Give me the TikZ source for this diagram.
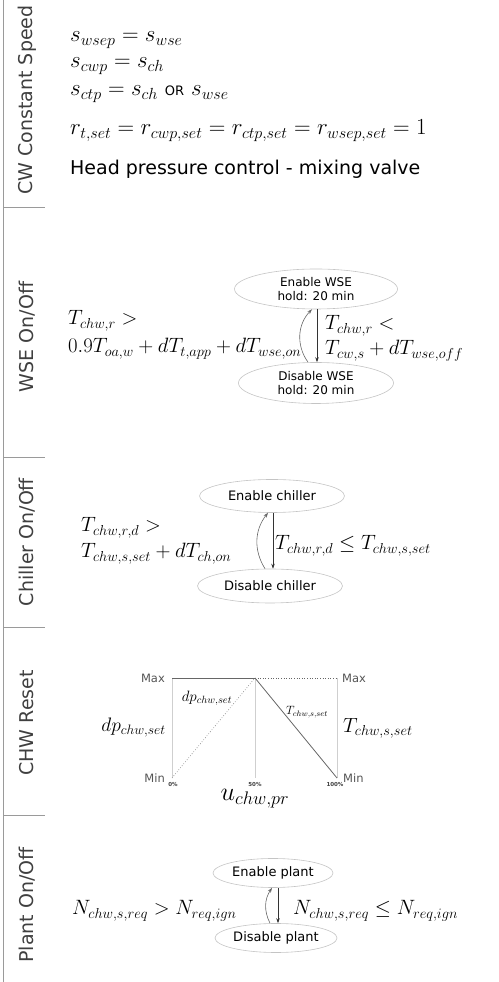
\documentclass[tikz,border=0pt]{standalone}
\usepackage{fix-cm}
\usepackage{fontspec}
\setsansfont{DejaVu Sans}
\usepackage{xcolor}
\definecolor{cText}{HTML}{3F3F3F}
\definecolor{cGray}{HTML}{555555}
\definecolor{cSep}{HTML}{9A9A9A}
\definecolor{cEll}{HTML}{C4C4C4}
\definecolor{cAxis}{HTML}{CFCFCF}
\definecolor{cLine}{HTML}{666666}
\usepackage{tikz}
\usetikzlibrary{positioning,arrows.meta,shapes.geometric,calc}
\tikzset{
  sec-label/.style={rotate=90,text=cText,font=\sffamily\fontsize{19}{22}\selectfont,inner sep=0pt},
  sep-line/.style={draw=cSep,line width=0.9pt},
  eq-text/.style={anchor=base west,inner sep=0pt,font=\fontsize{20.74}{25}\selectfont},
  eq-big/.style={eq-text,font=\fontsize{23}{27}\selectfont},
  plain-text/.style={anchor=base west,inner sep=0pt,font=\sffamily\fontsize{19}{22}\selectfont},
  node-state/.style={draw=cEll,line width=0.6pt,ellipse,inner sep=0pt,align=center,
    font=\sffamily\fontsize{13}{15}\selectfont},
  node-state-wse/.style={node-state,font=\sffamily\fontsize{12}{14}\selectfont},
  % forward / backward transitions of the on/off state pairs
  arrow/.style={-{Stealth[length=5pt,width=3.5pt]},line width=0.6pt,draw=black!80},
  arrow-back/.style={-{Stealth[length=5pt,width=3.5pt]},line width=0.6pt,draw=black!60},
  axis-line/.style={draw=cAxis,line width=0.8pt},
  curve-solid/.style={draw=cLine,line width=0.8pt},
  curve-dotted/.style={draw=cLine,line width=0.6pt,dotted},
  tick-label/.style={text=cGray,font=\sffamily\fontsize{11.5}{13}\selectfont,inner sep=0pt},
  pct-label/.style={text=cText,font=\sffamily\bfseries\fontsize{5.5}{6}\selectfont,inner sep=0pt},
}

\begin{document}
\begin{tikzpicture}[x=1pt,y=1pt]
  \useasboundingbox (0,0) rectangle (498,982);
  % left rail and section separators
  \draw[sep-line] (3,0) -- (3,982);
  \foreach \y in {775,525,355,167} {
    \draw[sep-line] (3,\y) -- (45,\y);
  }
  \node[sec-label] (lblCW) at (27,882) {CW Constant Speed};
  \node[sec-label] (lblWSE) at (27,645) {WSE On/Off};
  \node[sec-label] (lblCH) at (27,440) {Chiller On/Off};
  \node[sec-label] (lblRST) at (27,259) {CHW Reset};
  \node[sec-label] (lblPL) at (27,77) {Plant On/Off};

  % CW constant speed
  \node[eq-big] (eqWsep) at (70,940) {$s_{wsep} = s_{wse}$};
  \node[eq-big] (eqCwp) at (70,914) {$s_{cwp} = s_{ch}$};
  \node[eq-big] (eqCtp) at (70,886) {$s_{ctp} = s_{ch}$ {\sffamily\fontsize{13}{15}\selectfont OR} $s_{wse}$};
  \node[eq-big] (eqRat) at (70,847) {$r_{t,set} = r_{cwp,set} = r_{ctp,set} = r_{wsep,set} = 1$};
  \node[plain-text] (hpc) at (70,807) {Head pressure control - mixing valve};

  % WSE on/off
  \node[node-state-wse,minimum width=163pt,minimum height=40pt] (wseOn) at (316,693) {Enable WSE\\hold: 20 min};
  \node[node-state-wse,minimum width=155pt,minimum height=41pt] (wseOff) at (316,599) {Disable WSE\\hold: 20 min};
  \draw[arrow] ([xshift=1pt]wseOn.south) -- ([xshift=1pt]wseOn.south |- wseOff.north);
  \draw[arrow-back] ([xshift=-8pt]wseOff.north) to[bend left=40] ([xshift=-4pt]wseOn.south);
  \node[eq-text] (wseUp1) at (68,657) {$T_{chw,r} >$};
  \node[eq-text] (wseUp2) at (68,629) {$0.9T_{oa,w} + dT_{t,app} + dT_{wse,on}$};
  \node[eq-text] (wseDn1) at (325,652) {$T_{chw,r} <$};
  \node[eq-text] (wseDn2) at (325,627) {$T_{cw,s} + dT_{wse,off}$};

  % chiller on/off
  \node[node-state,minimum width=145pt,minimum height=33pt] (chOn) at (272,486) {Enable chiller};
  \node[node-state,minimum width=145pt,minimum height=34pt] (chOff) at (270,396) {Disable chiller};
  \draw[arrow] ([xshift=1pt]chOn.south) -- ([xshift=1pt]chOn.south |- chOff.north);
  \draw[arrow-back] ([xshift=-5pt]chOff.north) to[bend left=35] ([xshift=-4pt]chOn.south);
  \node[eq-text] (chUp1) at (81,450) {$T_{chw,r,d} >$};
  \node[eq-text] (chUp2) at (81,424) {$T_{chw,s,set} + dT_{ch,on}$};
  \node[eq-text] (chDn) at (275,432) {$T_{chw,r,d} \le T_{chw,s,set}$};

  % CHW reset
  \coordinate (lo0) at (172,204);
  \coordinate (lo50) at (255,204);
  \coordinate (lo100) at (337,204);
  \coordinate (hi0) at (172,304);
  \coordinate (hi50) at (255,304);
  \coordinate (hi100) at (337,304);
  \draw[axis-line] (lo0) -- (hi0);
  \draw[axis-line] (lo100) -- (hi100);
  \draw[axis-line,line width=0.4pt] (lo50) -- (hi50);
  \draw[curve-solid] (hi0) -- (hi50);
  \draw[curve-dotted] (hi50) -- (hi100);
  \draw[curve-dotted] (lo0) -- (hi50);
  \draw[curve-solid] (hi50) -- (lo100);
  \node[tick-label,anchor=east] (maxL) at ([xshift=-7pt]hi0) {Max};
  \node[tick-label,anchor=east] (minL) at ([xshift=-7pt]lo0) {Min};
  \node[tick-label,anchor=west] (maxR) at ([xshift=5pt]hi100) {Max};
  \node[tick-label,anchor=west] (minR) at ([xshift=6pt]lo100) {Min};
  \node[pct-label] (pct0) at (173,197) {0\%};
  \node[pct-label] (pct50) at (255,197) {50\%};
  \node[pct-label] (pct100) at (335,197) {100\%};
  \node[inner sep=0pt,font=\fontsize{26}{30}\selectfont] (uPr) at (255,183) {$u_{chw,pr}$};
  \node[inner sep=0pt,font=\fontsize{15}{18}\selectfont] (dpIn) at (207,284) {$dp_{chw,set}$};
  \node[inner sep=0pt,font=\fontsize{12}{14}\selectfont] (tIn) at (307,270) {$T_{chw,s,set}$};
  \node[inner sep=0pt,anchor=east,font=\fontsize{19.5}{23}\selectfont] (dpAx) at (166,254) {$dp_{chw,set}$};
  \node[inner sep=0pt,anchor=west,font=\fontsize{20.5}{24}\selectfont] (tAx) at (343,254) {$T_{chw,s,set}$};

  % plant on/off
  \node[node-state,minimum width=120pt,minimum height=29pt] (plOn) at (273,109) {Enable plant};
  \node[node-state,minimum width=122pt,minimum height=29pt] (plOff) at (276,44) {Disable plant};
  \draw[arrow] ([xshift=5pt]plOn.south) -- ([xshift=5pt]plOn.south |- plOff.north);
  \draw[arrow-back] ([xshift=-6pt]plOff.north) to[bend left=30] ([xshift=-1pt]plOn.south);
  \node[eq-text] (plUp) at (72,67) {$N_{chw,s,req} > N_{req,ign}$};
  \node[eq-text] (plDn) at (293,67) {$N_{chw,s,req} \le N_{req,ign}$};
\end{tikzpicture}
\end{document}
